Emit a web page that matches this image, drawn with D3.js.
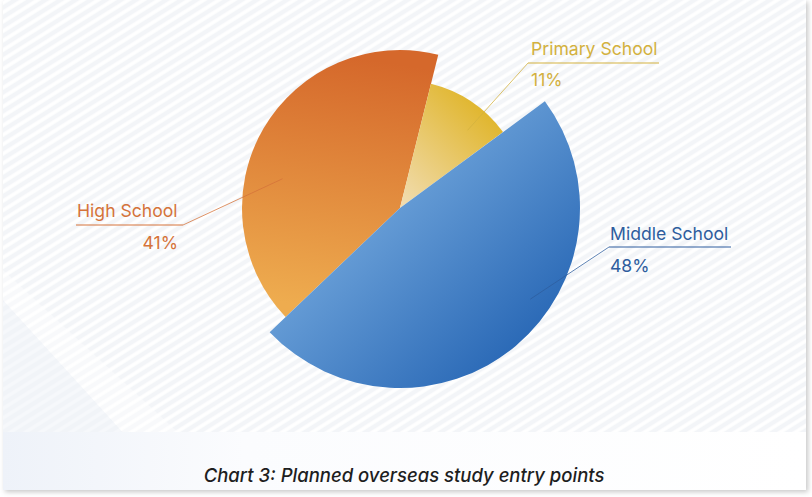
<!DOCTYPE html>
<html>
<head>
<meta charset="utf-8">
<script src="https://cdn.jsdelivr.net/npm/d3@7"></script>
<style>
  html, body { margin: 0; padding: 0; background: #ffffff; }
  svg { display: block; }
</style>
</head>
<body>
<svg id="chart" width="812" height="497"></svg>
<script>
// ---- data ----
const categories = ["Primary School", "Middle School", "High School"];
const values = [11, 48, 41];
const valueLabels = ["11%", "48%", "41%"];
const title = "Chart 3: Planned overseas study entry points";

// ---- style / layout config ----
const W = 812, H = 497;
const cx = 400, cy = 208;
const radiusScale = d3.scaleOrdinal().domain(categories).range([128, 180, 158]);
const textColor = d3.scaleOrdinal().domain(categories).range(["#d3b13e", "#2e5d9e", "#d5733a"]);
// gradient endpoints in page coordinates
const gradStops = {
  "Primary School": { x1: 495, y1: 115, x2: 405, y2: 205, c1: "#e0b52a", c2: "#f1dcae" },
  "Middle School":  { x1: 360, y1: 215, x2: 520, y2: 385, c1: "#6aa0d8", c2: "#2262b2" },
  "High School":    { x1: 340, y1: 55,  x2: 300, y2: 305, c1: "#d5682b", c2: "#eeac4f" }
};
const labelLayout = {
  "Primary School": { tx: 531, ty: 55, ux1: 528, ux2: 659, uy: 63, lx: 528, ang: 41, rr: 103, py: 86 },
  "Middle School":  { tx: 610, ty: 240, ux1: 609, ux2: 731, uy: 247, lx: 609, ang: 125, rr: 159, py: 272 },
  "High School":    { tx: 77, ty: 217, ux1: 76, ux2: 183, uy: 225, lx: 183, ang: 284, rr: 121, py: 249, pAnchor: "end", px: 178 }
};

const svg = d3.select("#chart");
const defs = svg.append("defs");

// ---- background ----
const pat = defs.append("pattern").attr("id", "stripes")
  .attr("patternUnits", "userSpaceOnUse").attr("width", 8).attr("height", 8)
  .attr("patternTransform", "rotate(-32)");
pat.append("rect").attr("width", 8).attr("height", 8).attr("fill", "#f3f5f8");
pat.append("line").attr("x1", 0).attr("y1", 4).attr("x2", 8).attr("y2", 4)
  .attr("stroke", "#ffffff").attr("stroke-width", 3.6);

const shadow = defs.append("filter").attr("id", "shadow")
  .attr("x", "-5%").attr("y", "-5%").attr("width", "110%").attr("height", "110%");
shadow.append("feDropShadow").attr("dx", 2).attr("dy", 2).attr("stdDeviation", 2.5)
  .attr("flood-color", "#000").attr("flood-opacity", 0.22);

svg.append("rect").attr("x", 3).attr("y", 0).attr("width", 803).attr("height", 490)
  .attr("fill", "#f4f6f9").attr("filter", "url(#shadow)");
svg.append("rect").attr("x", 3).attr("y", 0).attr("width", 803).attr("height", 490)
  .attr("fill", "url(#stripes)");

// soft diagonal shapes lower-left
svg.append("path")
  .attr("d", "M3,300 L3,490 L175,490 Z")
  .attr("fill", "#eef2f8").attr("opacity", 0.55);
svg.append("path")
  .attr("d", "M3,270 L3,300 L175,490 L240,490 Z")
  .attr("fill", "#ffffff").attr("opacity", 0.4);

// bottom caption band
const bandGrad = defs.append("linearGradient").attr("id", "bandGrad")
  .attr("x1", 0).attr("y1", 0).attr("x2", 1).attr("y2", 0);
bandGrad.append("stop").attr("offset", "0%").attr("stop-color", "#eef2f9");
bandGrad.append("stop").attr("offset", "30%").attr("stop-color", "#fbfcfe");
bandGrad.append("stop").attr("offset", "100%").attr("stop-color", "#ffffff");
svg.append("rect").attr("x", 3).attr("y", 432).attr("width", 803).attr("height", 58)
  .attr("fill", "url(#bandGrad)");

// ---- pie ----
const data = categories.map((c, i) => ({ category: c, value: values[i], label: valueLabels[i] }));
const start = 14 * Math.PI / 180;
const pie = d3.pie().sort(null).value(d => d.value).startAngle(start).endAngle(start + 2 * Math.PI);
const arcs = pie(data);

categories.forEach((k, i) => {
  const g = gradStops[k];
  const lg = defs.append("linearGradient").attr("id", "g" + i)
    .attr("gradientUnits", "userSpaceOnUse")
    .attr("x1", g.x1 - cx).attr("y1", g.y1 - cy).attr("x2", g.x2 - cx).attr("y2", g.y2 - cy);
  lg.append("stop").attr("offset", "0%").attr("stop-color", g.c1);
  lg.append("stop").attr("offset", "100%").attr("stop-color", g.c2);
});

const arcGen = d3.arc().innerRadius(0).outerRadius(d => radiusScale(d.data.category));
const gPie = svg.append("g").attr("transform", `translate(${cx},${cy})`);
const order = ["High School", "Primary School", "Middle School"];
order.forEach(cat => {
  const a = arcs.find(d => d.data.category === cat);
  gPie.append("path")
    .attr("d", arcGen(a))
    .attr("fill", `url(#g${categories.indexOf(cat)})`);
});

// ---- labels ----
const font = "Inter, 'Open Sans', sans-serif";
const gLab = svg.append("g");
data.forEach(d => {
  const L = labelLayout[d.category];
  const col = textColor(d.category);
  const a = L.ang * Math.PI / 180;
  const ix = cx + L.rr * Math.sin(a), iy = cy - L.rr * Math.cos(a);
  gLab.append("line")
    .attr("x1", L.ux1).attr("y1", L.uy).attr("x2", L.ux2).attr("y2", L.uy)
    .attr("stroke", col).attr("stroke-width", 1);
  gLab.append("line")
    .attr("x1", L.lx).attr("y1", L.uy).attr("x2", ix).attr("y2", iy)
    .attr("stroke", col).attr("stroke-width", 0.9).attr("opacity", 0.85);
  gLab.append("text").attr("x", L.tx).attr("y", L.ty)
    .attr("font-family", font).attr("font-size", 17.6).attr("fill", col)
    .text(d.category);
  gLab.append("text").attr("x", L.px !== undefined ? L.px : L.tx).attr("y", L.py)
    .attr("text-anchor", L.pAnchor || "start")
    .attr("font-family", font).attr("font-size", 17.6).attr("fill", col)
    .text(d.label);
});

// ---- title ----
svg.append("text").attr("x", 404).attr("y", 482)
  .attr("text-anchor", "middle")
  .attr("font-family", font).attr("font-size", 18.5).attr("font-style", "italic")
  .attr("font-weight", 500)
  .attr("fill", "#1e1e1e")
  .text(title);
</script>
</body>
</html>
